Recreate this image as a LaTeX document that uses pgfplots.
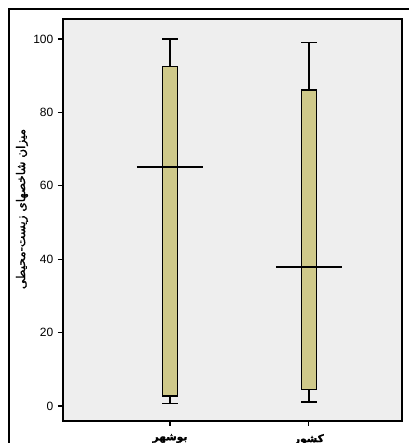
\documentclass[border=0pt]{standalone}
\usepackage{pgfplots}
\pgfplotsset{compat=1.18}
\usepgfplotslibrary{statistics}
\usepackage{fontspec}
\setmainfont{Liberation Sans}
\newfontfamily\arabicfont[Script=Arabic,FakeBold=1.5]{DejaVu Sans}
\TeXXeTstate=1
\definecolor{boxfill}{RGB}{207,201,138}
\definecolor{plotbg}{RGB}{238,238,238}

\begin{document}
\begin{tikzpicture}
\useasboundingbox (0pt,0pt) rectangle (306.75pt,332.25pt);
\draw[line width=0.8pt] (6.75pt,-15pt) -- (6.75pt,325.5pt) -- (330pt,325.5pt);
\begin{axis}[
    at={(47.25pt,16.5pt)}, anchor=south west,
    scale only axis, width=254.25pt, height=301.5pt,
    xmin=0.23, xmax=2.67,
    ymin=-4.09, ymax=105.45,
    axis background/.style={fill=plotbg},
    axis line style={line width=0.8pt},
    xtick={1,2},
    xticklabels={{\arabicfont\bfseries\beginR بوشهر\endR},{\arabicfont\bfseries\beginR کشور\endR}},
    ytick={0,20,40,60,80,100},
    tick pos=left, tick align=outside,
    major tick length=3.75pt,
    tick style={black, line width=0.8pt},
    tick label style={font=\fontsize{9}{10}\selectfont},
    xticklabel style={font=\fontsize{8}{9}\selectfont, yshift=-2.5pt},
    /pgf/number format/assume math mode=true,
    boxplot/draw direction=y,
    boxplot/box extend=0.11,
    boxplot/whisker extend=0.11,
    boxplot/every median/.style={line width=1.5pt},
    boxplot/draw/median/.code={%
        \draw[/pgfplots/boxplot/every median/.try]
        (boxplot box cs:\pgfplotsboxplotvalue{median},-1.67) --
        (boxplot box cs:\pgfplotsboxplotvalue{median},2.67);
    },
]
\addplot[boxplot prepared={draw position=1,
    lower whisker=0.7, lower quartile=2.7, median=65.2,
    upper quartile=92.6, upper whisker=100},
    fill=boxfill, draw=black, line width=0.9pt] coordinates {};
\addplot[boxplot prepared={draw position=2,
    lower whisker=1.1, lower quartile=4.6, median=37.8,
    upper quartile=86.1, upper whisker=99.0},
    fill=boxfill, draw=black, line width=0.9pt] coordinates {};
\end{axis}
\node[rotate=90, font=\fontsize{9}{10}\selectfont] at (16.5pt,175.5pt)
    {\arabicfont\beginR میزان شاخصهای زیست-محیطی\endR};
\end{tikzpicture}
\end{document}
